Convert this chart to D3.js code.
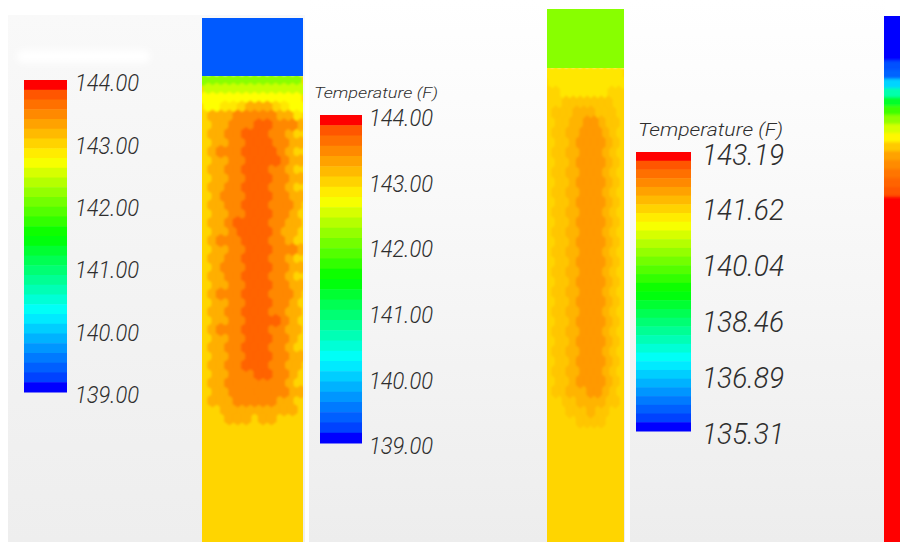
<!DOCTYPE html>
<html><head><meta charset="utf-8">
<script src="https://cdn.jsdelivr.net/npm/d3@7"></script>
<style>html,body{margin:0;padding:0;background:#fff}svg{display:block}text{font-family:Roboto,sans-serif;font-style:italic;font-weight:300;fill:#2e2e2e}</style>
</head><body><div id="c"></div>
<script>
// --- data ---
const legendA = ["144.00","143.00","142.00","141.00","140.00","139.00"];
const legendB = ["144.00","143.00","142.00","141.00","140.00","139.00"];
const legendC = ["143.19","141.62","140.04","138.46","136.89","135.31"];
const legendTitle = "Temperature (F)";
const rangeAB = [139, 144];
const rangeC = [135.31, 143.19];
const bandCount = 32;
// cell temperature codes, degrees F
const tempsA = {g:142.17,h:142.48,y:142.75,z:142.9,a:143.02,b:143.27,c:143.52,e:143.76};
const tempsB = {z:141.46,a:141.65,k:141.8,b:141.98,d:142.26};
const capTempA = 139.3, capTempB = 140.30;
const fieldA = [
"gggggggggggg","hhhhhhhhhhhh","yyyyyyyyyyyy","yyzzabbbazyy","abbbcccccbbz","abbccceecccb",
"abbcceeeccba","abbcceeeccbb","abccceeeecba","abbcceeeecbb","abbcceeeccba","abbcceeeccbb",
"abbcceeeccba","abccceeeccbb","abbcceeecccb","abbcceeeccba","abbceeeeccbb","abbceeeecbba",
"abccceeeccba","abbcceeecccb","abbcceeeccba","abccceeeccbb","abbcceeeccba","abbcceeeccbb",
"abccceeecccb","abbcceeeccba","abbcceeeccbb","abbcceeeecba","abccceeeccbb","abbcceeeccba",
"abbcceeeccba","abbcceeeccbb","abbcceeeccbb","abbccceeccba","abbcccccccba","abbcccccccbb",
"abbbcccccbba","aabbbbbbbbba","aaabbbabbaaa"];
const fieldB = [
"zzzzzzzzzzz","zzzzzzzzzzz","aazzzzzzzaa","aakkkkkkkaa","akkkbbbkkka","akkbbddbkka",
"akkbbdddbka","akkbddddbka","akkbbdddbka","akkbddddbka","akkbbdddbka","akkbddddbka",
"akkbbdddbka","akkbddddbka","akkbbdddbka","akkbddddbka","akkbbdddbka","akkbddddbka",
"akkbbdddbka","akkbddddbka","akkbbdddbka","akkbddddbka","akkbbdddbka","akkbddddbka",
"akkbbdddbka","akkbddddbka","akkbbdddbka","akkbddddbka","akkbbdddbka","akkbddddbka",
"akkbbdddbka","akkbddddbka","akkbbbddbka","aakkbbbbkka","aaakkkbkkaa","aaaakkkkaaa"];
// right-hand partial column: colour position per 9px row, 0 = blue, 1 = red
const stripC = [0,0,0,0,0,.05,.07,.2,.33,.46,.56,.64,.71,.76,.82,.87,.9,.93,.95,.97,1];

// --- layout ---
const W = 900, H = 542;
const stops = [0,.03,.25,.5,.75,.97,1];
const stopColors = ["#0000ff","#0040ff","#00ffff","#00ff00","#ffff00","#ff5500","#ff0000"];
const rainbow = d3.scaleLinear().domain(stops).range(stopColors).interpolate(d3.interpolateRgb).clamp(true);

const svg = d3.select("#c").append("svg").attr("width",W).attr("height",H).attr("viewBox",[0,0,W,H]);
const defs = svg.append("defs");
const grad = defs.append("linearGradient").attr("id","bg").attr("x1",0).attr("x2",0).attr("y1",0).attr("y2",1);
grad.append("stop").attr("offset",0).attr("stop-color","#ffffff");
grad.append("stop").attr("offset",.3).attr("stop-color","#fafafa");
grad.append("stop").attr("offset",1).attr("stop-color","#ededed");
const gradA = defs.append("linearGradient").attr("id","bgA").attr("x1",0).attr("x2",0).attr("y1",0).attr("y2",1);
gradA.append("stop").attr("offset",0).attr("stop-color","#f9f9f9");
gradA.append("stop").attr("offset",1).attr("stop-color","#eeeeee");
function blur(id,sd){
  defs.append("filter").attr("id",id).attr("x","-20%").attr("y","-20%").attr("width","140%").attr("height","140%")
    .append("feGaussianBlur").attr("stdDeviation",sd);
}
blur("soft",.8); blur("faint",.45); blur("strip",1.6);
defs.append("filter").attr("id","smudge").attr("x","-20%").attr("y","-60%").attr("width","140%").attr("height","220%")
  .append("feGaussianBlur").attr("stdDeviation",3);

// backgrounds
[[8,15,297,527,"url(#bgA)"],[309,0,316,542,"url(#bg)"],[630,0,255,542,"url(#bg)"]].forEach(([x,y,w,h,f])=>
  svg.append("rect").attr("x",x).attr("y",y).attr("width",w).attr("height",h).attr("fill",f));
svg.append("rect").attr("x",17).attr("y",50).attr("width",133).attr("height",13).attr("rx",6).attr("fill","#fff").attr("filter","url(#smudge)");

function drawColumn(id,cfg){
  const {x0,x1,capTop,y0,y1,field,temps,domain,capTemp,baseTemp,bottom} = cfg;
  const col = t => rainbow((t-domain[0])/(domain[1]-domain[0]));
  const clip = defs.append("clipPath").attr("id",id);
  clip.append("rect").attr("x",x0).attr("y",capTop).attr("width",x1-x0).attr("height",bottom-capTop);
  const outer = svg.append("g").attr("clip-path",`url(#${id})`);
  const g = outer.append("g").attr("filter","url(#soft)");
  const nCol = field[0].length, nRow = field.length;
  const xs = d3.scaleBand().domain(d3.range(nCol)).range([x0,x1]);
  const ys = d3.scaleBand().domain(d3.range(nRow)).range([y0,y1]);
  g.append("rect").attr("x",x0-6).attr("width",x1-x0+12).attr("y",y0).attr("height",bottom-y0+8).attr("fill",col(baseTemp));
  const cells = [];
  field.forEach((row,r)=>[...row].forEach((c,i)=>cells.push({r,i,t:temps[c]})));
  cells.sort((a,b)=>d3.ascending(a.r<3?0:1,b.r<3?0:1)||d3.ascending(a.t,b.t));
  const line = d3.line();
  const hw = xs.bandwidth()*.6, hh = ys.bandwidth()*.74;
  g.selectAll("path").data(cells).join("path")
    .attr("fill",d=>col(d.t)).attr("stroke",d=>col(d.t)).attr("stroke-width",.3)
    .attr("d",d=>{
      const cx = xs(d.i)+xs.bandwidth()/2+(d.r%2?xs.bandwidth()/4:-xs.bandwidth()/4);
      const cy = ys(d.r)+ys.bandwidth()/2;
      return line([[cx-hw,cy-hh/2],[cx,cy-hh],[cx+hw,cy-hh/2],[cx+hw,cy+hh/2],[cx,cy+hh],[cx-hw,cy+hh/2]])+"Z";
    });
  // the cap above the field stays sharp along its lower edge
  outer.append("rect").attr("x",x0).attr("width",x1-x0).attr("y",capTop).attr("height",y0-capTop).attr("fill",col(capTemp));
}
drawColumn("colA",{x0:202,x1:303,capTop:18,y0:76,y1:423,field:fieldA,temps:tempsA,domain:rangeAB,capTemp:capTempA,baseTemp:tempsA.a,bottom:542});
drawColumn("colB",{x0:547,x1:624,capTop:9,y0:68,y1:426,field:fieldB,temps:tempsB,domain:rangeC,capTemp:capTempB,baseTemp:tempsB.a,bottom:542});

// right strip
(function(){
  const id="colC";
  defs.append("clipPath").attr("id",id).append("rect").attr("x",884).attr("y",16).attr("width",16).attr("height",526);
  const ys = d3.scaleBand().domain(d3.range(stripC.length)).range([16,205]);
  const g = svg.append("g").attr("clip-path",`url(#${id})`).append("g").attr("filter","url(#strip)");
  g.selectAll("rect").data(stripC).join("rect").attr("x",870).attr("width",44)
    .attr("y",(d,i)=>ys(i)-(i?0:8)).attr("height",(d,i)=>ys.bandwidth()+(i?1:9)).attr("fill",d=>rainbow(d));
  g.append("rect").attr("x",870).attr("width",44).attr("y",ys(stripC.length-1)).attr("height",H).attr("fill",rainbow(1));
})();

function drawLegend(cfg){
  const {x,w,top,bottom,labels,offset,font,labelX,labelW,title,titleX,titleY,titleFont,titleW} = cfg;
  const bands = d3.scaleBand().domain(d3.range(bandCount)).range([top,bottom]);
  const g = svg.append("g").attr("filter","url(#faint)");
  g.selectAll("rect").data(d3.range(bandCount)).join("rect")
    .attr("x",x).attr("width",w).attr("y",i=>bands(i)).attr("height",bands.bandwidth()+.5)
    .attr("fill",i=>rainbow(1-i/(bandCount-1)));
  const nums = labels.map(Number);
  const y = d3.scaleLinear().domain(d3.extent(nums)).range([bottom+offset,top+offset]);
  const axis = d3.axisRight(y).tickValues(nums).tickSize(0).tickPadding(0).tickFormat((d,i)=>labels[i]);
  const ag = svg.append("g").attr("transform",`translate(${labelX},0)`).call(axis);
  ag.select(".domain").remove();
  ag.selectAll("text").attr("font-size",font).attr("font-family","Roboto").attr("fill","#2e2e2e")
    .attr("textLength",labelW).attr("lengthAdjust","spacingAndGlyphs");
  if(title) svg.append("text").attr("x",titleX).attr("y",titleY).attr("font-size",titleFont)
    .attr("textLength",titleW).attr("lengthAdjust","spacingAndGlyphs").text(title);
}
drawLegend({x:24,w:43,top:80,bottom:392,labels:legendA,offset:3,font:24,labelX:75,labelW:64});
drawLegend({x:320,w:42,top:115,bottom:443,labels:legendB,offset:3,font:24,labelX:369,labelW:64,title:legendTitle,titleX:314,titleY:98,titleFont:14.5,titleW:124});
drawLegend({x:636,w:55,top:152,bottom:431,labels:legendC,offset:3,font:29,labelX:702,labelW:82,title:legendTitle,titleX:638,titleY:136,titleFont:17.5,titleW:145});
</script></body></html>
